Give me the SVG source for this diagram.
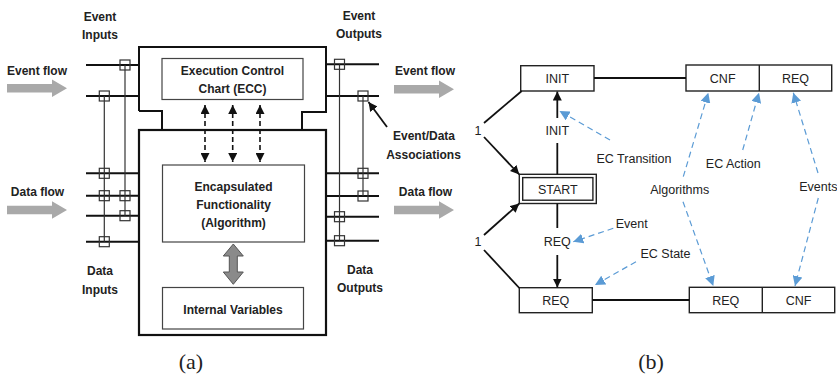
<svg xmlns="http://www.w3.org/2000/svg" width="837" height="377" viewBox="0 0 837 377">
<defs>
<style>
.b{font-family:"Liberation Sans",Arial,sans-serif;font-weight:bold;font-size:12px;fill:#222;text-anchor:middle}
.r{font-family:"Liberation Sans",Arial,sans-serif;font-size:12.5px;fill:#222;text-anchor:middle}
.cap{font-family:"Liberation Serif","DejaVu Serif",serif;font-size:22px;fill:#222;text-anchor:middle}
.box{fill:#fff;stroke:#444;stroke-width:1.2}
.sbox{fill:#fff;stroke:#222;stroke-width:1.4}
.hl{stroke:#111;stroke-width:2;fill:none}
.vl{stroke:#333;stroke-width:1.2;fill:none}
.sq{fill:none;stroke:#333;stroke-width:1.2}
.flow{fill:#a9a9a9}
.dash{stroke:#111;stroke-width:1.6;stroke-dasharray:5,3;fill:none}
.blue{stroke:#5b9bd5;stroke-width:1.2;stroke-dasharray:6,4;fill:none}
.blk{stroke:#111;stroke-width:1.8;fill:none}
</style>
<marker id="ah" viewBox="0 0 10 10" refX="10" refY="5" markerWidth="9" markerHeight="9" markerUnits="userSpaceOnUse" orient="auto-start-reverse"><path d="M0,0 L10,5 L0,10 z" fill="#111"/></marker>
<marker id="ahb" viewBox="0 0 10 10" refX="10" refY="5" markerWidth="10" markerHeight="10" markerUnits="userSpaceOnUse" orient="auto"><path d="M0,0 L10,5 L0,10 z" fill="#5b9bd5"/></marker>
</defs>

<!-- ===== (a) Function block ===== -->
<g id="fb-outline">
<path class="hl" d="M139,111 V47 H326 V112 H302 V130 M139,111 H162 V130"/>
<rect x="139" y="130" width="187" height="205" fill="none" stroke="#111" stroke-width="2.2"/>
</g>

<g id="ecc">
<rect class="box" x="162" y="58.5" width="141" height="41"/>
<text class="b" x="232.5" y="75">Execution Control</text>
<text class="b" x="232.5" y="93">Chart (ECC)</text>
</g>

<g id="algorithm">
<rect class="box" x="162.5" y="165" width="142" height="77"/>
<text class="b" x="233.5" y="190.5">Encapsulated</text>
<text class="b" x="233.5" y="208.5">Functionality</text>
<text class="b" x="233.5" y="227">(Algorithm)</text>
</g>

<g id="internal-vars">
<rect class="box" x="162.5" y="287.5" width="141" height="41.5"/>
<text class="b" x="233" y="313.5">Internal Variables</text>
</g>

<g id="connectors-a">
<!-- dashed ECC <-> algorithm arrows -->
<line class="dash" x1="205" y1="105" x2="205" y2="162" marker-start="url(#ah)" marker-end="url(#ah)"/>
<line class="dash" x1="232.7" y1="105" x2="232.7" y2="162" marker-start="url(#ah)" marker-end="url(#ah)"/>
<line class="dash" x1="260" y1="105" x2="260" y2="162" marker-start="url(#ah)" marker-end="url(#ah)"/>
<!-- gray double arrow -->
<polygon points="233.3,244 243.3,256 237.3,256 237.3,272 243.3,272 233.3,284.3 223.3,272 229.3,272 229.3,256 223.3,256" fill="#8a8a8a" stroke="#555" stroke-width="1"/>

<!-- left inputs -->
<line class="hl" x1="86" y1="65" x2="139" y2="65"/>
<line class="hl" x1="86" y1="96" x2="139" y2="96"/>
<line class="hl" x1="86" y1="173.3" x2="139" y2="173.3"/>
<line class="hl" x1="86" y1="195.7" x2="139" y2="195.7"/>
<line class="hl" x1="86" y1="215.7" x2="139" y2="215.7"/>
<line class="hl" x1="86" y1="241.7" x2="139" y2="241.7"/>
<line class="vl" x1="104.3" y1="96" x2="104.3" y2="241.7"/>
<line class="vl" x1="125" y1="65" x2="125" y2="215.7"/>
<rect class="sq" x="120" y="60" width="10" height="10"/>
<rect class="sq" x="99.3" y="91" width="10" height="10"/>
<rect class="sq" x="99.3" y="168.3" width="10" height="10"/>
<rect class="sq" x="99.3" y="190.7" width="10" height="10"/>
<rect class="sq" x="120" y="190.7" width="10" height="10"/>
<rect class="sq" x="120" y="210.7" width="10" height="10"/>
<rect class="sq" x="99.3" y="236.7" width="10" height="10"/>

<!-- right outputs -->
<line class="hl" x1="326" y1="64.3" x2="379" y2="64.3"/>
<line class="hl" x1="326" y1="96" x2="379" y2="96"/>
<line class="hl" x1="326" y1="173.3" x2="379" y2="173.3"/>
<line class="hl" x1="326" y1="196" x2="379" y2="196"/>
<line class="hl" x1="326" y1="216.7" x2="379" y2="216.7"/>
<line class="hl" x1="326" y1="240.7" x2="379" y2="240.7"/>
<line class="vl" x1="339.5" y1="64.3" x2="339.5" y2="240.7"/>
<line class="vl" x1="363" y1="96" x2="363" y2="196"/>
<rect class="sq" x="334.5" y="59.3" width="10" height="10"/>
<rect class="sq" x="358" y="91" width="10" height="10"/>
<rect class="sq" x="358" y="168.3" width="10" height="10"/>
<rect class="sq" x="358" y="191" width="10" height="10"/>
<rect class="sq" x="334.5" y="211.7" width="10" height="10"/>
<rect class="sq" x="334.5" y="235.7" width="10" height="10"/>

<!-- association pointer -->
<line class="blk" x1="387" y1="127" x2="368.5" y2="102" marker-end="url(#ah)"/>

<!-- flow arrows -->
<path class="flow" d="M7,84 H52 V79.5 L67,88.3 L52,97 V92.6 H7 Z"/>
<path class="flow" d="M7,205.7 H52 V201.2 L67,210 L52,218.8 V214.3 H7 Z"/>
<path class="flow" d="M394,85 H439 V80.5 L454,89.3 L439,98 V93.6 H394 Z"/>
<path class="flow" d="M394,205.7 H439 V201.2 L454,210 L439,218.8 V214.3 H394 Z"/>
</g>

<g id="labels-a">
<text class="b" x="100" y="21">Event</text>
<text class="b" x="100" y="38.5">Inputs</text>
<text class="b" x="359" y="19.5">Event</text>
<text class="b" x="359" y="37.5">Outputs</text>
<text class="b" x="37" y="74.5">Event flow</text>
<text class="b" x="425" y="74.5">Event flow</text>
<text class="b" x="37.5" y="196">Data flow</text>
<text class="b" x="425.5" y="196">Data flow</text>
<text class="b" x="424" y="139.5">Event/Data</text>
<text class="b" x="423.5" y="158.5">Associations</text>
<text class="b" x="100" y="275">Data</text>
<text class="b" x="100" y="293.5">Inputs</text>
<text class="b" x="360" y="273.5">Data</text>
<text class="b" x="360" y="292">Outputs</text>
<text class="cap" x="191" y="369">(a)</text>
</g>

<!-- ===== (b) ECC example ===== -->
<g id="init-state">
<rect class="sbox" x="520.7" y="65.7" width="73.3" height="25.3"/>
<text class="r" x="557.3" y="82.8">INIT</text>
</g>
<g id="start-state">
<rect class="sbox" x="519.3" y="174.3" width="77" height="29.2"/>
<rect class="sbox" x="522.7" y="177.6" width="70.2" height="22.6"/>
<text class="r" x="557.8" y="193.5">START</text>
</g>
<g id="req-state">
<rect class="sbox" x="519.3" y="287.7" width="73" height="25"/>
<text class="r" x="555.8" y="304.5">REQ</text>
</g>
<g id="init-actions">
<rect class="sbox" x="686" y="65" width="145.7" height="26"/>
<line class="sbox" x1="759.3" y1="65" x2="759.3" y2="91"/>
<text class="r" x="722.7" y="82.5">CNF</text>
<text class="r" x="795.5" y="82.5">REQ</text>
</g>
<g id="req-actions">
<rect class="sbox" x="689.3" y="287.3" width="145.4" height="25.4"/>
<line class="sbox" x1="762.3" y1="287.3" x2="762.3" y2="312.7"/>
<text class="r" x="725.8" y="304.5">REQ</text>
<text class="r" x="798.5" y="304.5">CNF</text>
</g>

<g id="connectors-b">
<line class="blk" x1="594" y1="78" x2="686" y2="78"/>
<line class="blk" x1="592.3" y1="300" x2="689.3" y2="300"/>
<line class="blk" x1="557.3" y1="118" x2="557.3" y2="91.5" marker-end="url(#ah)"/>
<line class="blk" x1="557.3" y1="143" x2="557.3" y2="174.3"/>
<line class="blk" x1="557.3" y1="203.5" x2="557.3" y2="228"/>
<line class="blk" x1="557.3" y1="255" x2="557.3" y2="287.5" marker-end="url(#ah)"/>
<line class="blk" x1="521.7" y1="91" x2="484" y2="123"/>
<line class="blk" x1="484" y1="137" x2="519.3" y2="174.5" marker-end="url(#ah)"/>
<line class="blk" x1="484" y1="235" x2="519.3" y2="203.5" marker-end="url(#ah)"/>
<line class="blk" x1="484" y1="250" x2="519.3" y2="288"/>

<line class="blue" x1="610" y1="140" x2="559.5" y2="111" marker-end="url(#ahb)"/>
<line class="blue" x1="742.7" y1="150" x2="759" y2="92.7" marker-end="url(#ahb)"/>
<line class="blue" x1="683.3" y1="176.7" x2="708.3" y2="92.7" marker-end="url(#ahb)"/>
<line class="blue" x1="683" y1="201.7" x2="713.3" y2="286" marker-end="url(#ahb)"/>
<line class="blue" x1="818" y1="173" x2="793.3" y2="92.7" marker-end="url(#ahb)"/>
<line class="blue" x1="818.3" y1="198" x2="795" y2="286" marker-end="url(#ahb)"/>
<line class="blue" x1="613.3" y1="228.3" x2="573.3" y2="241.7" marker-end="url(#ahb)"/>
<line class="blue" x1="636" y1="261.7" x2="595" y2="285" marker-end="url(#ahb)"/>
</g>

<g id="labels-b">
<text class="r" x="557.3" y="135">INIT</text>
<text class="r" x="557.3" y="246">REQ</text>
<text class="r" x="478" y="135">1</text>
<text class="r" x="478" y="246">1</text>
<text class="r" x="634" y="162.5">EC Transition</text>
<text class="r" x="733.3" y="167.5">EC Action</text>
<text class="r" x="679.7" y="193.5">Algorithms</text>
<text class="r" x="818.3" y="191">Events</text>
<text class="r" x="631.7" y="227.5">Event</text>
<text class="r" x="665.5" y="257.5">EC State</text>
<text class="cap" x="651" y="369">(b)</text>
</g>
</svg>
